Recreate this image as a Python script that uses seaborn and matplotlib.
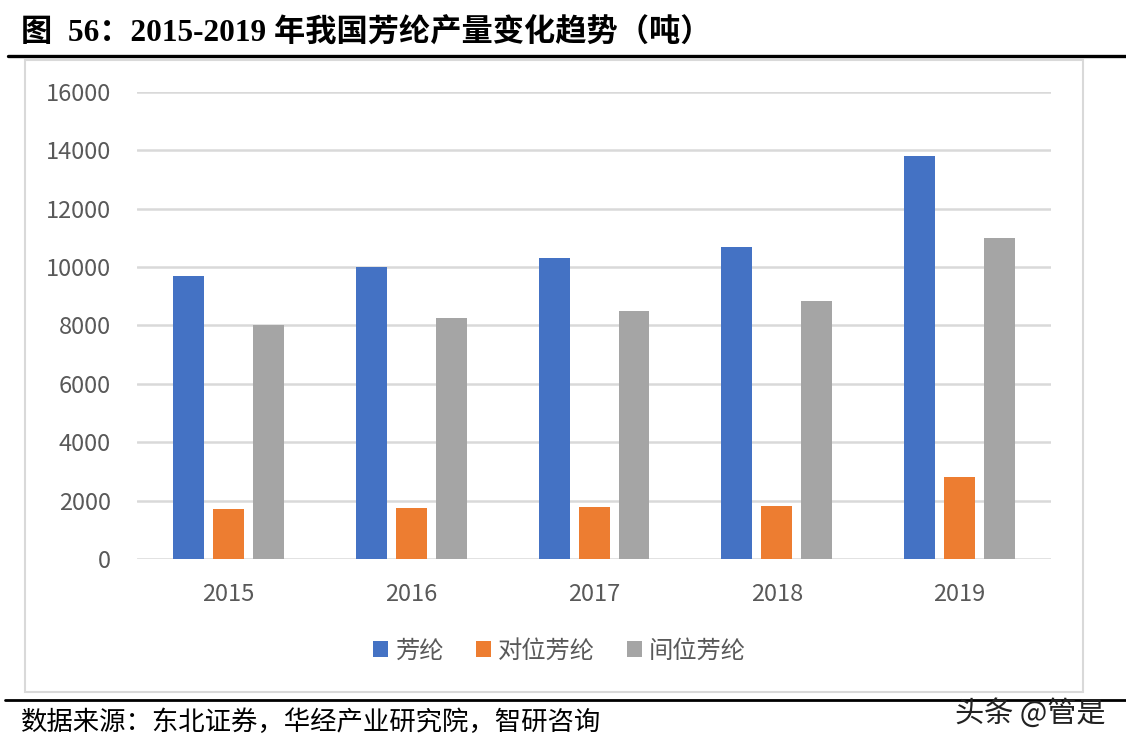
import matplotlib
matplotlib.use("Agg")
import matplotlib.pyplot as plt
import matplotlib.patches as patches
import matplotlib.lines as mlines
import seaborn as sns
import pandas as pd

# data (吨)
years = ["2015", "2016", "2017", "2018", "2019"]
fanglun = [9700, 10000, 10300, 10700, 13800]
duiwei = [1700, 1740, 1770, 1830, 2800]
jianwei = [8000, 8250, 8500, 8840, 11000]
series = ["芳纶", "对位芳纶", "间位芳纶"]
colors = ["#4472C4", "#ED7D31", "#A5A5A5"]
yticks = [0, 2000, 4000, 6000, 8000, 10000, 12000, 14000, 16000]

df = pd.DataFrame({
    "year": years * 3,
    "value": fanglun + duiwei + jianwei,
    "kind": [series[0]] * 5 + [series[1]] * 5 + [series[2]] * 5,
})

sns.set_theme(style="white")
plt.rcParams["font.family"] = ["Noto Sans CJK SC", "DejaVu Sans"]

fig = plt.figure(figsize=(11.26, 7.49), dpi=100)
ax = fig.add_axes([0.1217, 0.2537, 0.8117, 0.6235])

sns.barplot(data=df, x="year", y="value", hue="kind", hue_order=series,
            palette=colors, width=0.656, gap=0.225, saturation=1,
            edgecolor="none", ax=ax)

ax.set_ylim(0, 16000)
ax.set_xlim(-0.5, 4.5)
ax.set_yticks(yticks)
ax.set_yticklabels([str(v) for v in yticks])
ax.yaxis.grid(True, color="#D9D9D9", linewidth=1.8)
ax.set_axisbelow(True)
for s in ax.spines.values():
    s.set_visible(False)
ax.set_xlabel("")
ax.set_ylabel("")
ax.tick_params(axis="both", length=0, labelsize=17, labelcolor="#595959")
ax.tick_params(axis="x", pad=17)
ax.tick_params(axis="y", pad=19)

sns.move_legend(ax, "center", bbox_to_anchor=(0.497, 0.131),
                bbox_transform=fig.transFigure, ncol=3, frameon=False,
                title=None, fontsize=17.5, handlelength=0.62,
                handleheight=0.62, handletextpad=0.3, columnspacing=1.3)
for t in ax.get_legend().get_texts():
    t.set_color("#595959")

# chart frame
fig.patches.append(patches.Rectangle((0.0222, 0.0761), 0.9396, 0.8438,
                                     transform=fig.transFigure, fill=False,
                                     edgecolor="#D9D9D9", linewidth=1.5))
# black rules
fig.lines.append(mlines.Line2D([0.007, 1.0], [0.9252, 0.9252],
                               transform=fig.transFigure, color="black", linewidth=2.4))
fig.lines.append(mlines.Line2D([0.004, 1.0], [0.0654, 0.0654],
                               transform=fig.transFigure, color="black", linewidth=2.0))

fig.text(0.019, 0.955, "图  56：2015-2019 年我国芳纶产量变化趋势（吨）",
         family=["Liberation Serif", "Noto Sans CJK SC"], fontweight="bold",
         fontsize=22.5, va="center", ha="left", color="black")
fig.text(0.019, 0.035, "数据来源：东北证券，华经产业研究院，智研咨询",
         fontsize=19, va="center", ha="left", color="black")
fig.text(0.848, 0.047, "头条 @管是", fontsize=21, va="center", ha="left",
         color="#222222")

fig.savefig("out.png", dpi=100)
